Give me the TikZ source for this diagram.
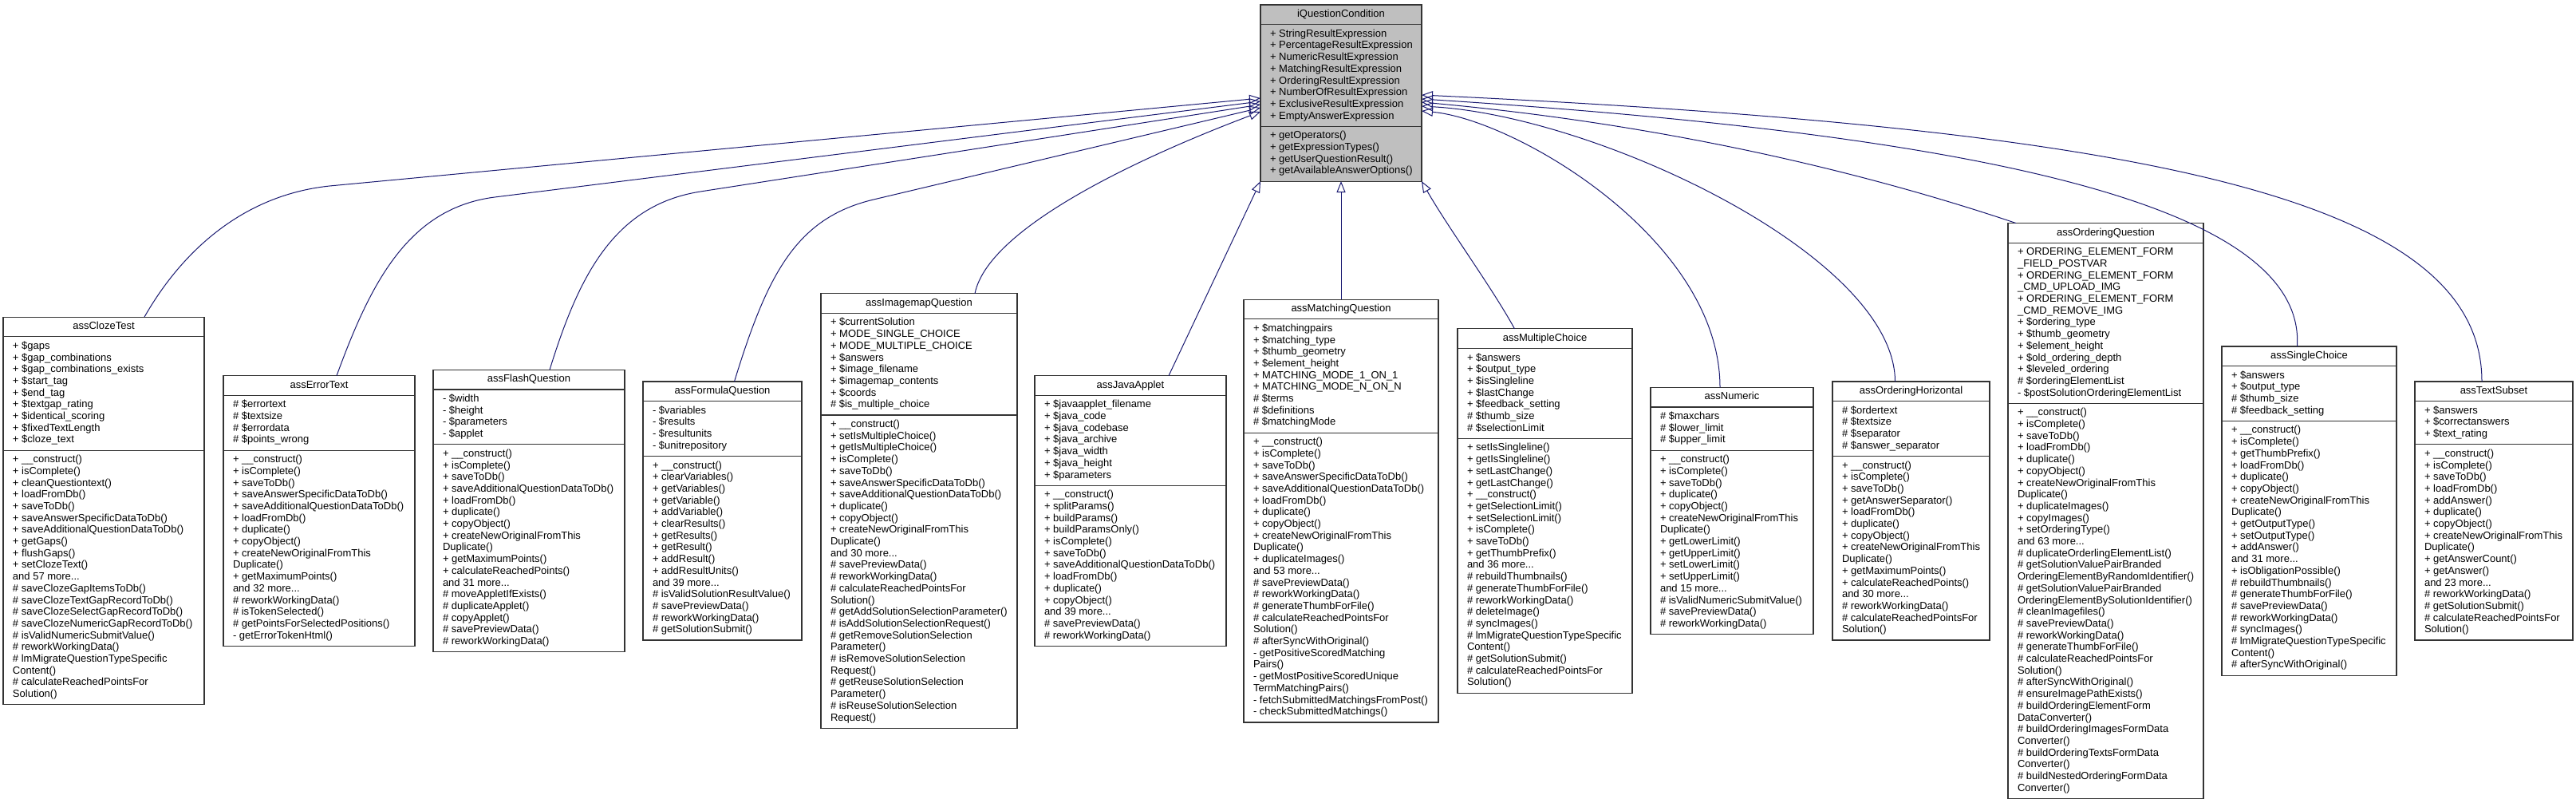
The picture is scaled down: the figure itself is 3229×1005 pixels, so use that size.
\documentclass[tikz,border=0pt]{standalone}
\usepackage{fontspec}
\setmainfont{Liberation Sans}
\usetikzlibrary{arrows.meta}
\definecolor{edgeblue}{HTML}{191970}
\definecolor{parentgray}{HTML}{BFBFBF}
\newcommand{\umlstrut}{\rule{0pt}{11pt}}
\def\umlfill{white}
\tikzset{
  umlframe/.style={draw=black!80, line width=1.2pt, rectangle, inner sep=0pt, outer sep=0pt},
  umlsep/.style={draw=black!80, line width=1.2pt},
  umltxt/.style={inner sep=0pt, outer sep=0pt, align=left, font=\fontsize{13pt}{14.7pt}\selectfont},
  inh/.style={draw=edgeblue, line width=1pt, -{Triangle[open, length=14pt, width=11pt]}},
}
% #1 name, #2 left x, #3 width, #4 centre y, #5 title, #6 n attrs, #7 attrs, #8 n methods, #9 methods
\newcommand{\umlbox}[9]{%
  \pgfmathsetmacro{\umlH}{(1+#6+#8)*14.7+30}%
  \pgfmathsetmacro{\umlT}{#4-\umlH/2}%
  \pgfmathsetmacro{\umlSa}{\umlT+24.7}%
  \pgfmathsetmacro{\umlSb}{\umlSa+#6*14.7+10}%
  \node[umlframe, fill=\umlfill, minimum width=#3pt, minimum height=\umlH pt, anchor=north west] (#1) at (#2,\umlT) {};
  \node[umltxt, anchor=north] (#1-t) at ([yshift=-4.5pt]#1.north) {\umlstrut#5};
  \draw[umlsep] (#2,\umlSa) -- ++(#3,0);
  \node[umltxt, anchor=north west] (#1-a) at (#2+12,\umlSa+4.5) {\umlstrut#7};
  \draw[umlsep] (#2,\umlSb) -- ++(#3,0);
  \node[umltxt, anchor=north west] (#1-m) at (#2+12,\umlSb+4.5) {\umlstrut#9};
}
\begin{document}
\begin{tikzpicture}[x=1pt, y=-1pt]
\useasboundingbox (0,0) rectangle (3229,1005);

\def\umlfill{parentgray}
\umlbox{iq}{1580}{202}{116.55}{iQuestionCondition}{8}{%
+ StringResultExpression\\
+ PercentageResultExpression\\
+ NumericResultExpression\\
+ MatchingResultExpression\\
+ OrderingResultExpression\\
+ NumberOfResultExpression\\
+ ExclusiveResultExpression\\
+ EmptyAnswerExpression}{4}{%
+ getOperators()\\
+ getExpressionTypes()\\
+ getUserQuestionResult()\\
+ getAvailableAnswerOptions()}
\def\umlfill{white}

\umlbox{cloze}{4}{252}{640}{assClozeTest}{9}{%
+ \$gaps\\
+ \$gap\_combinations\\
+ \$gap\_combinations\_exists\\
+ \$start\_tag\\
+ \$end\_tag\\
+ \$textgap\_rating\\
+ \$identical\_scoring\\
+ \$fixedTextLength\\
+ \$cloze\_text}{21}{%
+ \_\_construct()\\
+ isComplete()\\
+ cleanQuestiontext()\\
+ loadFromDb()\\
+ saveToDb()\\
+ saveAnswerSpecificDataToDb()\\
+ saveAdditionalQuestionDataToDb()\\
+ getGaps()\\
+ flushGaps()\\
+ setClozeText()\\
and 57 more...\\
\# saveClozeGapItemsToDb()\\
\# saveClozeTextGapRecordToDb()\\
\# saveClozeSelectGapRecordToDb()\\
\# saveClozeNumericGapRecordToDb()\\
\# isValidNumericSubmitValue()\\
\# reworkWorkingData()\\
\# lmMigrateQuestionTypeSpecific\\
Content()\\
\# calculateReachedPointsFor\\
Solution()}

\umlbox{errtext}{280}{240}{640}{assErrorText}{4}{%
\# \$errortext\\
\# \$textsize\\
\# \$errordata\\
\# \$points\_wrong}{16}{%
+ \_\_construct()\\
+ isComplete()\\
+ saveToDb()\\
+ saveAnswerSpecificDataToDb()\\
+ saveAdditionalQuestionDataToDb()\\
+ loadFromDb()\\
+ duplicate()\\
+ copyObject()\\
+ createNewOriginalFromThis\\
Duplicate()\\
+ getMaximumPoints()\\
and 32 more...\\
\# reworkWorkingData()\\
\# isTokenSelected()\\
\# getPointsForSelectedPositions()\\
- getErrorTokenHtml()}

\umlbox{flash}{543}{240}{640}{assFlashQuestion}{4}{%
- \$width\\
- \$height\\
- \$parameters\\
- \$applet}{17}{%
+ \_\_construct()\\
+ isComplete()\\
+ saveToDb()\\
+ saveAdditionalQuestionDataToDb()\\
+ loadFromDb()\\
+ duplicate()\\
+ copyObject()\\
+ createNewOriginalFromThis\\
Duplicate()\\
+ getMaximumPoints()\\
+ calculateReachedPoints()\\
and 31 more...\\
\# moveAppletIfExists()\\
\# duplicateApplet()\\
\# copyApplet()\\
\# savePreviewData()\\
\# reworkWorkingData()}

\umlbox{formula}{806}{199}{640}{assFormulaQuestion}{4}{%
- \$variables\\
- \$results\\
- \$resultunits\\
- \$unitrepository}{15}{%
+ \_\_construct()\\
+ clearVariables()\\
+ getVariables()\\
+ getVariable()\\
+ addVariable()\\
+ clearResults()\\
+ getResults()\\
+ getResult()\\
+ addResult()\\
+ addResultUnits()\\
and 39 more...\\
\# isValidSolutionResultValue()\\
\# savePreviewData()\\
\# reworkWorkingData()\\
\# getSolutionSubmit()}

\umlbox{imagemap}{1029}{246}{640}{assImagemapQuestion}{8}{%
+ \$currentSolution\\
+ MODE\_SINGLE\_CHOICE\\
+ MODE\_MULTIPLE\_CHOICE\\
+ \$answers\\
+ \$image\_filename\\
+ \$imagemap\_contents\\
+ \$coords\\
\# \$is\_multiple\_choice}{26}{%
+ \_\_construct()\\
+ setIsMultipleChoice()\\
+ getIsMultipleChoice()\\
+ isComplete()\\
+ saveToDb()\\
+ saveAnswerSpecificDataToDb()\\
+ saveAdditionalQuestionDataToDb()\\
+ duplicate()\\
+ copyObject()\\
+ createNewOriginalFromThis\\
Duplicate()\\
and 30 more...\\
\# savePreviewData()\\
\# reworkWorkingData()\\
\# calculateReachedPointsFor\\
Solution()\\
\# getAddSolutionSelectionParameter()\\
\# isAddSolutionSelectionRequest()\\
\# getRemoveSolutionSelection\\
Parameter()\\
\# isRemoveSolutionSelection\\
Request()\\
\# getReuseSolutionSelection\\
Parameter()\\
\# isReuseSolutionSelection\\
Request()}

\umlbox{java}{1297}{240}{640}{assJavaApplet}{7}{%
+ \$javaapplet\_filename\\
+ \$java\_code\\
+ \$java\_codebase\\
+ \$java\_archive\\
+ \$java\_width\\
+ \$java\_height\\
+ \$parameters}{13}{%
+ \_\_construct()\\
+ splitParams()\\
+ buildParams()\\
+ buildParamsOnly()\\
+ isComplete()\\
+ saveToDb()\\
+ saveAdditionalQuestionDataToDb()\\
+ loadFromDb()\\
+ duplicate()\\
+ copyObject()\\
and 39 more...\\
\# savePreviewData()\\
\# reworkWorkingData()}

\umlbox{matching}{1559}{244}{640}{assMatchingQuestion}{9}{%
+ \$matchingpairs\\
+ \$matching\_type\\
+ \$thumb\_geometry\\
+ \$element\_height\\
+ MATCHING\_MODE\_1\_ON\_1\\
+ MATCHING\_MODE\_N\_ON\_N\\
\# \$terms\\
\# \$definitions\\
\# \$matchingMode}{24}{%
+ \_\_construct()\\
+ isComplete()\\
+ saveToDb()\\
+ saveAnswerSpecificDataToDb()\\
+ saveAdditionalQuestionDataToDb()\\
+ loadFromDb()\\
+ duplicate()\\
+ copyObject()\\
+ createNewOriginalFromThis\\
Duplicate()\\
+ duplicateImages()\\
and 53 more...\\
\# savePreviewData()\\
\# reworkWorkingData()\\
\# generateThumbForFile()\\
\# calculateReachedPointsFor\\
Solution()\\
\# afterSyncWithOriginal()\\
- getPositiveScoredMatching\\
Pairs()\\
- getMostPositiveScoredUnique\\
TermMatchingPairs()\\
- fetchSubmittedMatchingsFromPost()\\
- checkSubmittedMatchings()}

\umlbox{multi}{1827}{219}{640}{assMultipleChoice}{7}{%
+ \$answers\\
+ \$output\_type\\
+ \$isSingleline\\
+ \$lastChange\\
+ \$feedback\_setting\\
\# \$thumb\_size\\
\# \$selectionLimit}{21}{%
+ setIsSingleline()\\
+ getIsSingleline()\\
+ setLastChange()\\
+ getLastChange()\\
+ \_\_construct()\\
+ getSelectionLimit()\\
+ setSelectionLimit()\\
+ isComplete()\\
+ saveToDb()\\
+ getThumbPrefix()\\
and 36 more...\\
\# rebuildThumbnails()\\
\# generateThumbForFile()\\
\# reworkWorkingData()\\
\# deleteImage()\\
\# syncImages()\\
\# lmMigrateQuestionTypeSpecific\\
Content()\\
\# getSolutionSubmit()\\
\# calculateReachedPointsFor\\
Solution()}

\umlbox{numeric}{2069}{204}{640}{assNumeric}{3}{%
\# \$maxchars\\
\# \$lower\_limit\\
\# \$upper\_limit}{15}{%
+ \_\_construct()\\
+ isComplete()\\
+ saveToDb()\\
+ duplicate()\\
+ copyObject()\\
+ createNewOriginalFromThis\\
Duplicate()\\
+ getLowerLimit()\\
+ getUpperLimit()\\
+ setLowerLimit()\\
+ setUpperLimit()\\
and 15 more...\\
\# isValidNumericSubmitValue()\\
\# savePreviewData()\\
\# reworkWorkingData()}

\umlbox{ordh}{2297}{197}{640}{assOrderingHorizontal}{4}{%
\# \$ordertext\\
\# \$textsize\\
\# \$separator\\
\# \$answer\_separator}{15}{%
+ \_\_construct()\\
+ isComplete()\\
+ saveToDb()\\
+ getAnswerSeparator()\\
+ loadFromDb()\\
+ duplicate()\\
+ copyObject()\\
+ createNewOriginalFromThis\\
Duplicate()\\
+ getMaximumPoints()\\
+ calculateReachedPoints()\\
and 30 more...\\
\# reworkWorkingData()\\
\# calculateReachedPointsFor\\
Solution()}

\umlbox{ordq}{2517}{245}{640}{assOrderingQuestion}{13}{%
+ ORDERING\_ELEMENT\_FORM\\
\_FIELD\_POSTVAR\\
+ ORDERING\_ELEMENT\_FORM\\
\_CMD\_UPLOAD\_IMG\\
+ ORDERING\_ELEMENT\_FORM\\
\_CMD\_REMOVE\_IMG\\
+ \$ordering\_type\\
+ \$thumb\_geometry\\
+ \$element\_height\\
+ \$old\_ordering\_depth\\
+ \$leveled\_ordering\\
\# \$orderingElementList\\
- \$postSolutionOrderingElementList}{33}{%
+ \_\_construct()\\
+ isComplete()\\
+ saveToDb()\\
+ loadFromDb()\\
+ duplicate()\\
+ copyObject()\\
+ createNewOriginalFromThis\\
Duplicate()\\
+ duplicateImages()\\
+ copyImages()\\
+ setOrderingType()\\
and 63 more...\\
\# duplicateOrderlingElementList()\\
\# getSolutionValuePairBranded\\
OrderingElementByRandomIdentifier()\\
\# getSolutionValuePairBranded\\
OrderingElementBySolutionIdentifier()\\
\# cleanImagefiles()\\
\# savePreviewData()\\
\# reworkWorkingData()\\
\# generateThumbForFile()\\
\# calculateReachedPointsFor\\
Solution()\\
\# afterSyncWithOriginal()\\
\# ensureImagePathExists()\\
\# buildOrderingElementForm\\
DataConverter()\\
\# buildOrderingImagesFormData\\
Converter()\\
\# buildOrderingTextsFormData\\
Converter()\\
\# buildNestedOrderingFormData\\
Converter()}

\umlbox{single}{2785}{219}{640}{assSingleChoice}{4}{%
+ \$answers\\
+ \$output\_type\\
\# \$thumb\_size\\
\# \$feedback\_setting}{21}{%
+ \_\_construct()\\
+ isComplete()\\
+ getThumbPrefix()\\
+ loadFromDb()\\
+ duplicate()\\
+ copyObject()\\
+ createNewOriginalFromThis\\
Duplicate()\\
+ getOutputType()\\
+ setOutputType()\\
+ addAnswer()\\
and 31 more...\\
+ isObligationPossible()\\
\# rebuildThumbnails()\\
\# generateThumbForFile()\\
\# savePreviewData()\\
\# reworkWorkingData()\\
\# syncImages()\\
\# lmMigrateQuestionTypeSpecific\\
Content()\\
\# afterSyncWithOriginal()}

\umlbox{textsub}{3027}{198}{640}{assTextSubset}{3}{%
+ \$answers\\
+ \$correctanswers\\
+ \$text\_rating}{16}{%
+ \_\_construct()\\
+ isComplete()\\
+ saveToDb()\\
+ loadFromDb()\\
+ addAnswer()\\
+ duplicate()\\
+ copyObject()\\
+ createNewOriginalFromThis\\
Duplicate()\\
+ getAnswerCount()\\
+ getAnswer()\\
and 23 more...\\
\# reworkWorkingData()\\
\# getSolutionSubmit()\\
\# calculateReachedPointsFor\\
Solution()}

% attachment points on the parent
\coordinate (pL1) at (1580,123);
\coordinate (pL2) at (1580,127);
\coordinate (pL3) at (1580,131);
\coordinate (pL4) at (1580,135);
\coordinate (pL5) at (1580,140);
\coordinate (pR1) at (1782,119);
\coordinate (pR2) at (1782,124);
\coordinate (pR3) at (1782,128);
\coordinate (pR4) at (1782,133);
\coordinate (pR5) at (1782,139);
% attachment points on the children
\coordinate (cCl) at ([xshift=51pt]cloze.north);
\coordinate (cEr) at ([xshift=22pt]errtext.north);
\coordinate (cFl) at ([xshift=26pt]flash.north);
\coordinate (cFo) at ([xshift=15pt]formula.north);
\coordinate (cIm) at ([xshift=70pt]imagemap.north);
\coordinate (cJa) at ([xshift=48pt]java.north);
\coordinate (cMu) at ([xshift=-38pt]multi.north);
\coordinate (cNu) at ([xshift=-15pt]numeric.north);
\coordinate (cOh) at ([xshift=-20pt]ordh.north);
\coordinate (cOq) at ([xshift=10pt]ordq.north west);
\coordinate (cSi) at ([xshift=-15pt]single.north);
\coordinate (cTs) at ([xshift=-15pt]textsub.north);

\draw[inh] (cCl) .. controls (225,320) and (300,245) .. (413,233) -- (pL1);
\draw[inh] (cEr) .. controls (464,356) and (511,261) .. (620,247) -- (pL2);
\draw[inh] (cFl) .. controls (725,347) and (769,257) .. (878,240) -- (pL3);
\draw[inh] (cFo) .. controls (962,343) and (998,273) .. (1095,250) -- (pL4);
\draw[inh] (cIm) .. controls (1240,279) and (1458,186) .. (pL5);
\draw[inh] (cJa) -- (iq.south west);
\draw[inh] (matching.north) -- (iq.south);
\draw[inh] (cMu) .. controls (1870,360) and (1815,285) .. (iq.south east);
\draw[inh] (cNu) .. controls (2156,300) and (1900,150) .. (pR5);
\draw[inh] (cOh) .. controls (2375,320) and (2000,145) .. (pR4);
\draw[inh] (cOq) .. controls (2350,220) and (2100,157) .. (pR3);
\draw[inh] (cSi) .. controls (2890,260) and (2500,170) .. (pR2);
\draw[inh] (cTs) .. controls (3111,250) and (2700,162) .. (pR1);
\end{tikzpicture}
\end{document}
